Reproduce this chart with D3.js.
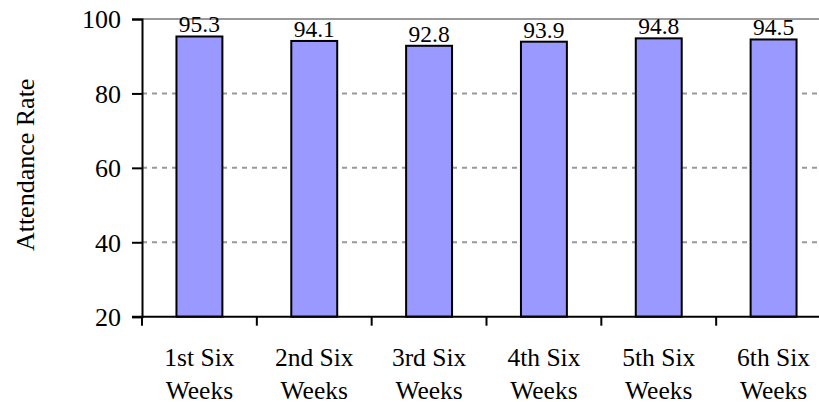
<!DOCTYPE html>
<html>
<head>
<meta charset="utf-8">
<script src="https://cdn.jsdelivr.net/npm/d3@7"></script>
<style>
  html, body { margin: 0; padding: 0; background: #fff; }
  svg { display: block; }
  text { font-family: "Liberation Serif", "Times New Roman", serif; fill: #000; }
</style>
</head>
<body>
<svg id="chart" width="819" height="402"></svg>
<script>
// Attendance rate for each six-week grading period
const categories = [["1st Six", "Weeks"], ["2nd Six", "Weeks"], ["3rd Six", "Weeks"],
                    ["4th Six", "Weeks"], ["5th Six", "Weeks"], ["6th Six", "Weeks"]];
const rates = [95.3, 94.1, 92.8, 93.9, 94.8, 94.5];
const yTicks = [20, 40, 60, 80, 100];
const yTitle = "Attendance Rate";

const svg = d3.select("#chart");
const W = 819;
const plotLeft = 142, plotRight = 831, plotTop = 19, plotBottom = 316.7;

const x = d3.scaleBand()
  .domain(d3.range(categories.length))
  .range([plotLeft, plotRight])
  .paddingInner(0.6)
  .paddingOuter(0.3);
const step = x.step();

const y = d3.scaleLinear().domain([20, 100]).range([plotBottom, plotTop]);

// horizontal gridlines (dashed), top one solid
svg.append("g").selectAll("line")
  .data(yTicks.filter(d => d > 20))
  .join("line")
  .attr("x1", plotLeft).attr("x2", W)
  .attr("y1", d => y(d)).attr("y2", d => y(d))
  .attr("stroke", "#999")
  .attr("stroke-width", 2)
  .attr("stroke-dasharray", d => d === 100 ? null : "5,5");

// bars
svg.append("g").selectAll("rect")
  .data(rates)
  .join("rect")
  .attr("x", (d, i) => x(i))
  .attr("width", x.bandwidth())
  .attr("y", d => y(d))
  .attr("height", d => y(20) - y(d))
  .attr("fill", "#9999ff")
  .attr("stroke", "#000")
  .attr("stroke-width", 2);

// value labels
svg.append("g").selectAll("text")
  .data(rates)
  .join("text")
  .attr("x", (d, i) => x(i) + x.bandwidth() / 2)
  .attr("y", d => y(d) - 4)
  .attr("text-anchor", "middle")
  .attr("font-size", 23.5)
  .text(d => d.toFixed(1));

// y axis
const yAxis = svg.append("g")
  .attr("transform", `translate(${plotLeft},0)`)
  .call(d3.axisLeft(y).tickValues(yTicks).tickSize(10).tickPadding(11));
yAxis.select(".domain").attr("stroke", "#000").attr("stroke-width", 2);
yAxis.selectAll(".tick line").attr("stroke", "#000").attr("stroke-width", 2);
yAxis.selectAll(".tick text")
  .attr("font-family", "Liberation Serif, Times New Roman, serif")
  .attr("font-size", 26)
  .attr("dy", "0.34em");

// x axis: ticks on category boundaries
const boundaries = d3.range(categories.length + 1).map(i => plotLeft + i * step);
svg.append("line")
  .attr("x1", plotLeft - 10).attr("x2", W)
  .attr("y1", plotBottom).attr("y2", plotBottom)
  .attr("stroke", "#000").attr("stroke-width", 2);
svg.append("g").selectAll("line")
  .data(boundaries)
  .join("line")
  .attr("x1", d => d).attr("x2", d => d)
  .attr("y1", plotBottom).attr("y2", plotBottom + 9)
  .attr("stroke", "#000").attr("stroke-width", 2);

// category labels (two lines)
const cat = svg.append("g").selectAll("text")
  .data(categories)
  .join("text")
  .attr("text-anchor", "middle")
  .attr("font-size", 25.5);
cat.each(function(lines, i) {
  const cx = x(i) + x.bandwidth() / 2;
  d3.select(this).selectAll("tspan")
    .data(lines)
    .join("tspan")
    .attr("x", cx)
    .attr("y", (d, j) => 366 + j * 32.5)
    .text(d => d);
});

// y axis title
svg.append("text")
  .attr("transform", `translate(34,${(plotTop + plotBottom) / 2 - 3}) rotate(-90)`)
  .attr("text-anchor", "middle")
  .attr("font-size", 26)
  .text(yTitle);
</script>
</body>
</html>
